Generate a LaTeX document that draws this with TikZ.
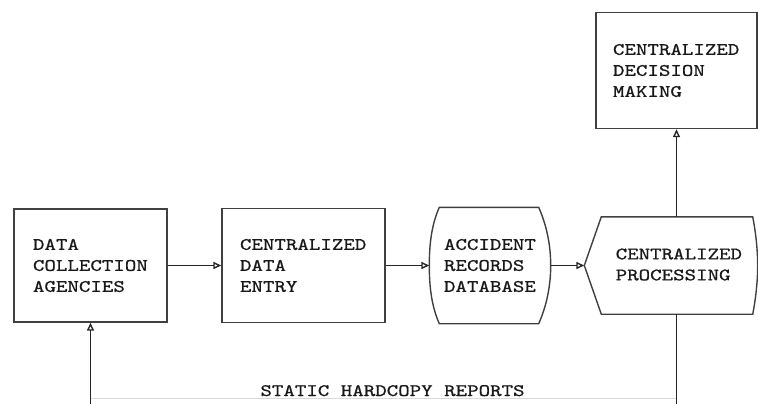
\documentclass[tikz,border=0pt]{standalone}
\usepackage{fontspec}
\setmonofont{lmmono10-regular.otf}[FakeStretch=1.25, FakeBold=0.8]
\usetikzlibrary{arrows.meta}

\tikzset{
  boxtext/.style={font=\ttfamily\fontsize{17.5}{21}\selectfont, text=black!90, align=left, inner ysep=0pt},
  flowbox/.style={boxtext, draw=black!75, rectangle},
  outline/.style={draw=black!75},
  flow/.style={draw=black!85, line width=1.5pt, -{Triangle[open, length=8pt, width=7pt, line width=1.4pt]}},
  plain/.style={draw=black!85, line width=1.5pt},
  faint/.style={draw=black!15, line width=1pt},
}

\begin{document}
\begin{tikzpicture}[x=1pt, y=-1pt, line width=1.4pt]
\useasboundingbox (0,0) rectangle (758,404);

% rectangular stages
\node[flowbox, text width=115pt, inner xsep=19pt, minimum height=113pt] (agency) at (90.5,265.5)
  {DATA\\COLLECTION\\AGENCIES};
\node[flowbox, text width=127pt, inner xsep=18pt, minimum height=114pt] (entry) at (303.5,265.5)
  {CENTRALIZED\\DATA\\ENTRY};
\node[flowbox, text width=127pt, inner xsep=17pt, minimum height=116pt] (dec) at (676.5,70.5)
  {CENTRALIZED\\DECISION\\MAKING};

% stored data: straight top and bottom, bowed sides
\node[boxtext, text width=92pt, inner xsep=14pt, minimum height=115pt] (db) at (490,265.5)
  {ACCIDENT\\RECORDS\\DATABASE};
\draw[outline] ([xshift=10pt]db.north west) -- ([xshift=-12pt]db.north east)
  .. controls +(8,18) and +(0,-20) .. (db.east)
  .. controls +(0,20) and +(8,-18) .. ([xshift=-12pt]db.south east)
  -- ([xshift=10pt]db.south west)
  .. controls +(-8,-18) and +(0,20) .. (db.west)
  .. controls +(0,-20) and +(-8,18) .. cycle;

% display shape: pointed left side, curved right side
\node[minimum width=172pt, minimum height=96pt, inner sep=0pt] (proc) at (671,265.5) {};
\node[boxtext, anchor=west, inner xsep=0pt] (proctext) at (615,264.5) {CENTRALIZED\\PROCESSING};
\draw[outline] (proc.west) -- ([xshift=17pt]proc.north west) -- ([xshift=-5pt]proc.north east)
  .. controls +(3,15) and +(0,-15) .. (proc.east)
  .. controls +(0,15) and +(3,-15) .. ([xshift=-5pt]proc.south east)
  -- ([xshift=17pt]proc.south west) -- cycle;

% forward flow
\draw[flow] (agency.east) -- (entry.west);
\draw[flow] (entry.east) -- (db.west);
\draw[flow] (db.east) -- (proc.west);
\draw[flow] (dec.south |- proc.north) -- (dec.south);

% feedback loop along the bottom
\coordinate (base) at (0,398);
\coordinate (edge) at (0,404);
\draw[faint] (agency.south |- base) -- (dec.south |- base);
\draw[plain] (dec.south |- proc.south) -- (dec.south |- edge);
\draw[flow] (agency.south |- edge) -- (agency.south);
\node[boxtext, anchor=base] (reports) at (392.5,396) {STATIC HARDCOPY REPORTS};
\end{tikzpicture}
\end{document}
